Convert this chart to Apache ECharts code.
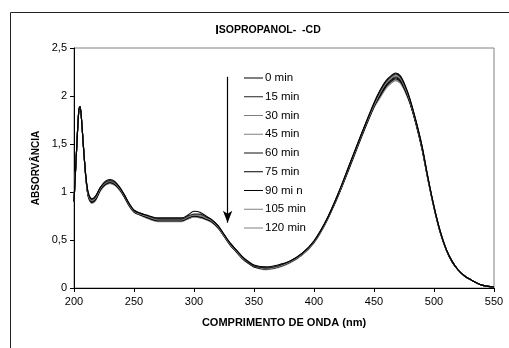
<!DOCTYPE html>
<html><head><meta charset="utf-8">
<script src="https://cdn.jsdelivr.net/npm/echarts@6/dist/echarts.min.js"></script>
<style>html,body{margin:0;padding:0;background:#fff}#c{width:509px;height:348px}</style>
</head><body><div id="c"></div>
<script>
const wavelengths = [200,202,204,205,206,208,210,212,215,218,222,226,230,234,238,242,246,250,255,260,270,280,290,295,300,305,310,315,320,325,330,335,340,345,350,360,370,380,390,400,410,420,430,440,450,455,460,465,468,472,476,480,485,490,495,500,505,510,515,520,525,530,540,550];
const seriesNames = ['0 min','15 min','30 min','45 min','60 min','75 min','90 mi n','105 min','120 min'];
const seriesColors = ['#000000','#202020','#808080','#808080','#101010','#000000','#000000','#808080','#808080'];
const s0 = [0.90,1.40,1.85,1.89,1.80,1.45,1.15,0.99,0.93,0.96,1.05,1.11,1.13,1.11,1.05,0.97,0.88,0.81,0.78,0.76,0.73,0.73,0.73,0.76,0.80,0.79,0.75,0.71,0.65,0.56,0.47,0.40,0.33,0.28,0.24,0.22,0.24,0.28,0.36,0.49,0.70,0.98,1.30,1.62,1.93,2.06,2.16,2.22,2.24,2.21,2.11,1.97,1.74,1.48,1.15,0.85,0.60,0.41,0.28,0.19,0.13,0.09,0.03,0.01];
const s1 = [0.90,1.40,1.85,1.89,1.80,1.45,1.15,0.98,0.92,0.95,1.05,1.10,1.12,1.10,1.05,0.97,0.88,0.81,0.78,0.76,0.72,0.72,0.72,0.75,0.77,0.77,0.74,0.71,0.65,0.56,0.47,0.40,0.33,0.27,0.23,0.21,0.23,0.28,0.36,0.49,0.70,0.98,1.30,1.62,1.92,2.05,2.15,2.21,2.23,2.20,2.10,1.96,1.74,1.48,1.15,0.85,0.60,0.41,0.28,0.19,0.13,0.09,0.03,0.01];
const s2 = [0.90,1.40,1.85,1.89,1.80,1.45,1.14,0.97,0.91,0.94,1.04,1.10,1.12,1.10,1.04,0.96,0.87,0.80,0.77,0.75,0.72,0.72,0.72,0.74,0.76,0.76,0.73,0.70,0.64,0.55,0.46,0.39,0.32,0.27,0.23,0.21,0.23,0.28,0.36,0.49,0.70,0.97,1.29,1.61,1.91,2.04,2.14,2.20,2.22,2.19,2.09,1.95,1.73,1.47,1.14,0.85,0.60,0.41,0.28,0.19,0.13,0.09,0.03,0.01];
const s3 = [0.90,1.40,1.85,1.89,1.80,1.45,1.14,0.97,0.91,0.94,1.04,1.09,1.11,1.09,1.04,0.96,0.87,0.80,0.77,0.75,0.71,0.71,0.71,0.74,0.76,0.75,0.73,0.70,0.64,0.55,0.46,0.39,0.32,0.27,0.23,0.20,0.22,0.27,0.35,0.48,0.69,0.97,1.29,1.61,1.90,2.03,2.13,2.19,2.21,2.18,2.08,1.95,1.73,1.47,1.14,0.84,0.60,0.41,0.28,0.19,0.13,0.09,0.03,0.01];
const s4 = [0.90,1.40,1.85,1.89,1.80,1.45,1.14,0.96,0.90,0.93,1.03,1.09,1.11,1.09,1.04,0.96,0.87,0.80,0.77,0.75,0.71,0.71,0.71,0.73,0.75,0.75,0.72,0.70,0.64,0.55,0.46,0.39,0.32,0.27,0.23,0.20,0.22,0.27,0.35,0.48,0.69,0.97,1.28,1.60,1.90,2.02,2.12,2.18,2.20,2.17,2.07,1.94,1.72,1.46,1.14,0.84,0.59,0.41,0.28,0.19,0.13,0.09,0.03,0.01];
const s5 = [0.90,1.40,1.85,1.89,1.80,1.45,1.13,0.96,0.90,0.93,1.03,1.08,1.10,1.08,1.03,0.95,0.86,0.80,0.77,0.74,0.70,0.70,0.70,0.73,0.75,0.74,0.72,0.69,0.63,0.55,0.46,0.39,0.32,0.27,0.23,0.20,0.22,0.27,0.35,0.48,0.69,0.96,1.28,1.60,1.89,2.01,2.11,2.17,2.19,2.16,2.06,1.93,1.72,1.46,1.13,0.84,0.59,0.41,0.28,0.19,0.13,0.09,0.03,0.01];
const s6 = [0.90,1.40,1.85,1.89,1.80,1.45,1.13,0.95,0.89,0.92,1.02,1.08,1.10,1.08,1.03,0.95,0.86,0.79,0.76,0.74,0.70,0.70,0.70,0.73,0.75,0.74,0.72,0.69,0.63,0.54,0.45,0.38,0.31,0.26,0.22,0.20,0.22,0.27,0.35,0.48,0.69,0.96,1.27,1.59,1.89,2.00,2.10,2.16,2.18,2.15,2.06,1.93,1.71,1.45,1.13,0.84,0.59,0.40,0.27,0.19,0.13,0.09,0.03,0.01];
const s7 = [0.90,1.40,1.85,1.89,1.80,1.45,1.13,0.95,0.89,0.92,1.02,1.07,1.09,1.07,1.02,0.95,0.86,0.79,0.76,0.74,0.70,0.70,0.70,0.72,0.74,0.74,0.71,0.69,0.63,0.54,0.45,0.38,0.31,0.26,0.22,0.20,0.22,0.27,0.35,0.47,0.68,0.96,1.27,1.59,1.88,1.99,2.09,2.15,2.17,2.14,2.05,1.92,1.71,1.45,1.13,0.83,0.59,0.40,0.27,0.19,0.13,0.09,0.03,0.01];
const s8 = [0.90,1.40,1.85,1.89,1.80,1.45,1.12,0.94,0.88,0.91,1.01,1.07,1.09,1.07,1.02,0.94,0.85,0.79,0.76,0.73,0.69,0.69,0.69,0.72,0.74,0.73,0.71,0.68,0.62,0.54,0.45,0.38,0.31,0.26,0.22,0.19,0.21,0.26,0.34,0.47,0.68,0.95,1.26,1.58,1.88,1.98,2.08,2.14,2.16,2.13,2.04,1.92,1.70,1.44,1.12,0.83,0.58,0.40,0.27,0.19,0.13,0.09,0.03,0.01];
const allSeries = [s0,s1,s2,s3,s4,s5,s6,s7,s8];
const xTicks = [200,250,300,350,400,450,500,550];
const yTicks = [0,0.5,1,1.5,2,2.5];
const arrowX = 328;
const arrowFrom = 2.2;
const arrowTo = 0.68;

const FONT = 'Liberation Sans, Arial, sans-serif';
const chart = echarts.init(document.getElementById('c'), null, {renderer:'canvas'});
const series = allSeries.map((vals, i) => ({
  name: seriesNames[i],
  type: 'line',
  data: wavelengths.map((w, j) => [w, vals[j]]),
  smooth: 0.3,
  symbol: 'none',
  lineStyle: {color: seriesColors[i], width: 1.1},
  itemStyle: {color: seriesColors[i]},
  z: 10 - i,
  silent: true
}));
series[0].markLine = {
  silent: true,
  symbol: ['none', 'arrow'],
  symbolSize: [7, 12],
  label: {show: false},
  lineStyle: {color: '#000', width: 1.2, type: 'solid'},
  data: [[{coord: [arrowX, arrowFrom]}, {coord: [arrowX, arrowTo]}]]
};
chart.setOption({
  animation: false,
  backgroundColor: '#fff',
  title: {
    text: '{a|I}{b|SOPROPANOL-  -CD}',
    left: 263, textAlign: 'center', top: 19,
    textStyle: {rich: {
      a: {fontFamily: FONT, fontWeight: 'bold', fontSize: 13, color: '#000'},
      b: {fontFamily: FONT, fontWeight: 'bold', fontSize: 10.5, color: '#000'}
    }}
  },
  legend: {
    orient: 'vertical', left: 239, top: 66,
    itemWidth: 19, itemHeight: 1, itemGap: 4.75,
    icon: 'rect',
    textStyle: {fontFamily: FONT, fontSize: 11.5, color: '#000', lineHeight: 14, padding: [0,0,0,-3]},
    data: seriesNames
  },
  grid: {left: 74, top: 48, width: 420, height: 240, show: true, borderColor: '#808080', borderWidth: 1, backgroundColor: 'transparent'},
  xAxis: {
    type: 'value', min: 200, max: 550, interval: 50,
    name: 'COMPRIMENTO DE ONDA (nm)', nameLocation: 'middle', nameGap: 29,
    nameTextStyle: {fontFamily: FONT, fontWeight: 'bold', fontSize: 11, color: '#000'},
    axisLine: {lineStyle: {color: '#000', width: 1}},
    axisTick: {show: true, length: 4, inside: false, lineStyle: {color: '#000'}},
    axisLabel: {fontFamily: FONT, fontSize: 11, color: '#000', margin: 8,
      formatter: v => xTicks.includes(v) ? String(v) : ''},
    splitLine: {show: false}
  },
  yAxis: {
    type: 'value', min: 0, max: 2.5, interval: 0.5,
    name: 'ABSORVÂNCIA', nameLocation: 'middle', nameGap: 32, nameRotate: 90,
    nameTextStyle: {fontFamily: FONT, fontWeight: 'bold', fontSize: 10, color: '#000'},
    axisLine: {show: true, lineStyle: {color: '#000', width: 1}},
    axisTick: {show: true, length: 4, lineStyle: {color: '#000'}},
    axisLabel: {fontFamily: FONT, fontSize: 11, color: '#000', margin: 7,
      formatter: v => yTicks.includes(v) ? String(v).replace('.', ',') : ''},
    splitLine: {show: false}
  },
  graphic: [{
    type: 'rect', left: 8, top: 10, silent: true,
    shape: {width: 560, height: 400},
    style: {fill: 'none', stroke: '#222', lineWidth: 1}
  }],
  series: series
});
</script></body></html>
